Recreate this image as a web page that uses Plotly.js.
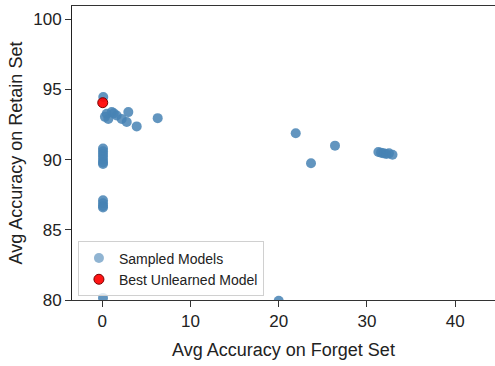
<!DOCTYPE html>
<html>
<head>
<meta charset="utf-8">
<script src="https://cdn.plot.ly/plotly-3.0.1.min.js"></script>
<style>
  html, body { margin: 0; padding: 0; background: #fff; overflow: hidden; }
  #chart { width: 495px; height: 366px; }
</style>
</head>
<body>
<div id="chart"></div>
<script>
// Sampled unlearned models: forget-set vs retain-set accuracy (%)
const sampledForget = [
  0.11, 0.5, 1.07, 0.68, 1.63, 2.2, 2.77, 2.95, 3.9, 6.28, 0.3, 1.3,
  0.08, 0.08, 0.08, 0.08, 0.08, 0.08, 0.08,
  0.08, 0.08, 0.08, 0.08,
  0.08, 20.0,
  21.93, 26.38, 23.66,
  31.3, 31.6, 31.9, 32.2, 32.5, 32.9
];
const sampledRetain = [
  94.46, 93.27, 93.39, 92.9, 93.15, 92.9, 92.68, 93.39, 92.37, 92.96, 93.05, 93.3,
  90.8, 90.6, 90.4, 90.2, 90.0, 89.8, 89.7,
  87.1, 86.9, 86.7, 86.6,
  80.15, 79.95,
  91.88, 91.0, 89.74,
  90.55, 90.5, 90.45, 90.4, 90.45, 90.35
];

// Best unlearned model
const bestForget = [0.05];
const bestRetain = [94.06];

const xTicks = [0, 10, 20, 30, 40];
const yTicks = [80, 85, 90, 95, 100];

const font = "'Liberation Sans', Arial, sans-serif";

const traces = [
  {
    x: sampledForget, y: sampledRetain,
    type: 'scatter', mode: 'markers',
    marker: { size: 10, color: 'rgba(70,130,180,0.85)' },
    showlegend: false, hoverinfo: 'x+y'
  },
  {
    x: bestForget, y: bestRetain,
    type: 'scatter', mode: 'markers',
    marker: { size: 10, color: 'rgba(255,0,0,0.92)', line: { color: '#7a0000', width: 1 } },
    showlegend: false
  },
  // legend entries
  {
    x: [null], y: [null], type: 'scatter', mode: 'markers',
    name: 'Sampled Models',
    marker: { size: 10, color: 'rgba(70,130,180,0.6)' }
  },
  {
    x: [null], y: [null], type: 'scatter', mode: 'markers',
    name: 'Best Unlearned Model',
    marker: { size: 10, color: 'rgba(255,0,0,0.92)', line: { color: '#7a0000', width: 1 } }
  }
];

const layout = {
  width: 495, height: 366,
  margin: { l: 72, r: 0, t: 6, b: 66 },
  paper_bgcolor: '#fff', plot_bgcolor: '#fff',
  font: { family: font, color: '#222', size: 17 },
  xaxis: {
    range: [-3.435, 44.52],
    tickvals: xTicks, ticktext: xTicks.map(String),
    showgrid: false, zeroline: false,
    showline: true, linecolor: '#333', linewidth: 1, mirror: true,
    ticks: 'outside', ticklen: 6, tickcolor: '#333',
    tickfont: { family: font, size: 17, color: '#222' },
    title: { text: 'Avg Accuracy on Forget Set', font: { family: font, size: 18, color: '#222' }, standoff: 12 }
  },
  yaxis: {
    range: [80, 100.95],
    tickvals: yTicks, ticktext: yTicks.map(String),
    showgrid: false, zeroline: false,
    showline: true, linecolor: '#222', linewidth: 1,
    ticks: 'outside', ticklen: 6, tickcolor: '#333',
    tickfont: { family: font, size: 17, color: '#222' },
    title: { text: 'Avg Accuracy on Retain Set', font: { family: font, size: 18, color: '#222' }, standoff: 5 }
  },
  legend: {
    x: 0.014, y: 0.012, xanchor: 'left', yanchor: 'bottom',
    bgcolor: 'rgba(255,255,255,0.8)', bordercolor: '#d0d0d0', borderwidth: 1,
    font: { family: font, size: 14, color: '#222' },
    tracegroupgap: 0
  },
  showlegend: true
};

Plotly.newPlot('chart', traces, layout, { displayModeBar: false, staticPlot: true });
</script>
</body>
</html>
